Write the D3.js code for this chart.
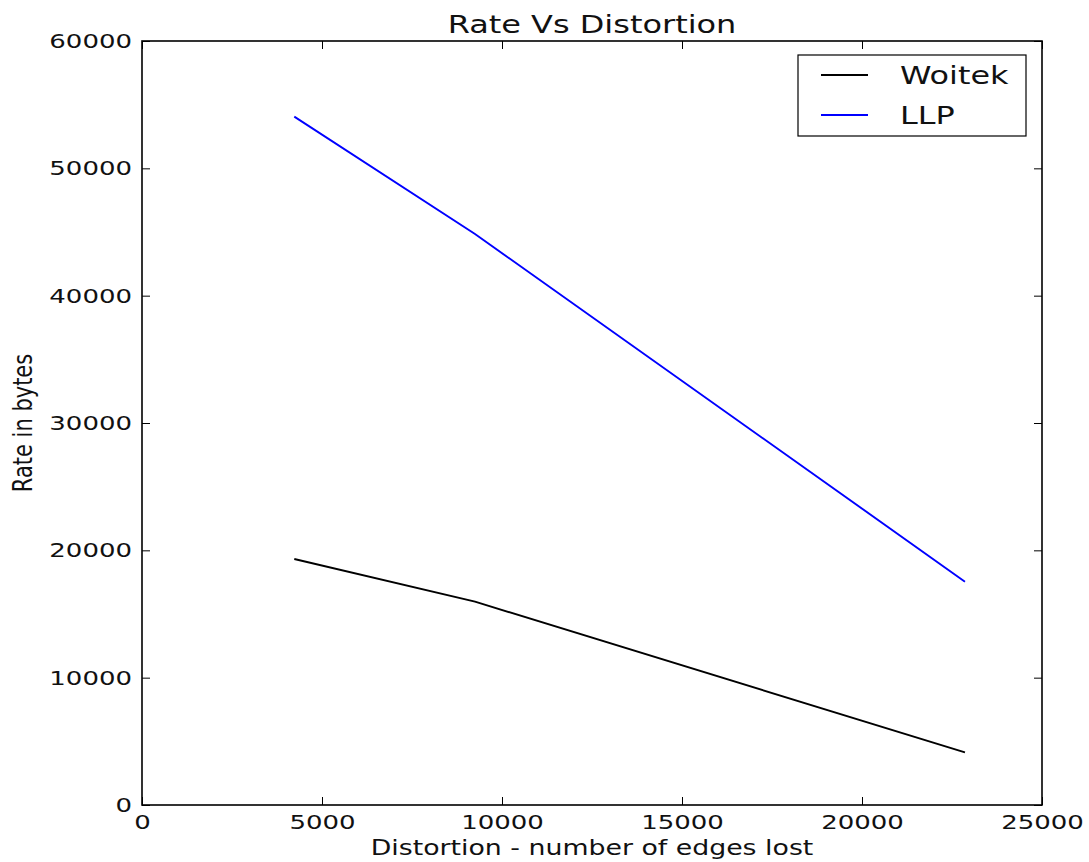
<!DOCTYPE html>
<html>
<head>
<meta charset="utf-8">
<script src="https://cdn.jsdelivr.net/npm/d3@7"></script>
<style>
  body { margin: 0; background: #fff; }
  text { font-family: "DejaVu Sans", sans-serif; fill: #111; }
</style>
</head>
<body>
<div class="chart"></div>
<script>
// values
var distortion = [4230, 9250, 22860];
var woitek = [19320, 15970, 4140];
var llp = [54060, 44840, 17540];
var seriesNames = ["Woitek", "LLP"];
var seriesColors = ["#000000", "#0000ff"];
var xTicks = [0, 5000, 10000, 15000, 20000, 25000];
var yTicks = [0, 10000, 20000, 30000, 40000, 50000, 60000];

var W = 1089, H = 862;
var margin = {top: 41, right: 47, bottom: 57, left: 142};
var width = W - margin.left - margin.right;
var height = H - margin.top - margin.bottom;
var SX = 1.3; // the picture is stretched sideways
var fmt = d3.format("d");

var svg = d3.select(".chart").append("svg")
    .attr("width", W)
    .attr("height", H);

var g = svg.append("g")
    .attr("transform", "translate(" + margin.left + "," + margin.top + ")");

var x = d3.scaleLinear().domain([0, 25000]).range([0, width]);
var y = d3.scaleLinear().domain([0, 60000]).range([height, 0]);

var data = [
  distortion.map(function(d, i) { return {x: d, y: woitek[i]}; }),
  distortion.map(function(d, i) { return {x: d, y: llp[i]}; })
];

var line = d3.line()
    .x(function(d) { return x(d.x); })
    .y(function(d) { return y(d.y); });

g.selectAll(".series")
    .data(data)
  .enter().append("path")
    .attr("class", "series")
    .attr("d", line)
    .attr("fill", "none")
    .attr("stroke", function(d, i) { return seriesColors[i]; })
    .attr("stroke-width", 1.9);

// axes, ticks pointing inward on all four sides
var xAxis = d3.axisBottom(x).tickValues(xTicks).tickFormat(fmt).tickSizeInner(-8).tickSizeOuter(0);
var yAxis = d3.axisLeft(y).tickValues(yTicks).tickFormat(fmt).tickSizeInner(-8).tickSizeOuter(0);

var gx = g.append("g").attr("transform", "translate(0," + height + ")").call(xAxis);
gx.selectAll("text")
    .attr("font-size", 20)
    .attr("y", 10)
    .attr("dy", "0.71em")
    .attr("transform", "scale(" + SX + ",1)");

var gy = g.append("g").call(yAxis);
gy.selectAll("text")
    .attr("font-size", 20)
    .attr("x", -10 / SX)
    .attr("transform", "scale(" + SX + ",1)");

g.append("g").call(d3.axisTop(x).tickValues(xTicks).tickSizeInner(-8).tickSizeOuter(0).tickFormat(""));
g.append("g").attr("transform", "translate(" + width + ",0)")
    .call(d3.axisRight(y).tickValues(yTicks).tickSizeInner(-8).tickSizeOuter(0).tickFormat(""));

g.selectAll(".domain").attr("stroke", "none");
g.selectAll(".tick line").attr("stroke", "#000").attr("stroke-width", 1);

g.append("rect")
    .attr("width", width)
    .attr("height", height)
    .attr("fill", "none")
    .attr("stroke", "#000")
    .attr("stroke-width", 1.6);

// title and labels
svg.append("text")
    .attr("transform", "translate(" + (margin.left + width / 2) + ",33) scale(" + SX + ",1)")
    .attr("text-anchor", "middle")
    .attr("font-size", 24.6)
    .text("Rate Vs Distortion");

svg.append("text")
    .attr("transform", "translate(" + (margin.left + width / 2) + ",855) scale(" + SX + ",1)")
    .attr("text-anchor", "middle")
    .attr("font-size", 20.6)
    .text("Distortion - number of edges lost");

svg.append("text")
    .attr("transform", "translate(32," + (margin.top + height / 2) + ") rotate(-90) scale(1," + SX + ")")
    .attr("text-anchor", "middle")
    .attr("font-size", 21)
    .text("Rate in bytes");

// legend
var legend = g.append("g").attr("transform", "translate(" + (798 - margin.left) + "," + (55 - margin.top) + ")");
legend.append("rect")
    .attr("width", 228)
    .attr("height", 81)
    .attr("fill", "#fff")
    .attr("stroke", "#000")
    .attr("stroke-width", 1.2);

var item = legend.selectAll(".item")
    .data(seriesNames)
  .enter().append("g")
    .attr("transform", function(d, i) { return "translate(0," + (20 + i * 40) + ")"; });

item.append("line")
    .attr("x1", 23).attr("x2", 70)
    .attr("stroke", function(d, i) { return seriesColors[i]; })
    .attr("stroke-width", 1.8);

item.append("text")
    .attr("transform", "translate(102,0) scale(" + SX + ",1)")
    .attr("dy", "0.36em")
    .attr("font-size", 24.5)
    .text(function(d) { return d; });
</script>
</body>
</html>
